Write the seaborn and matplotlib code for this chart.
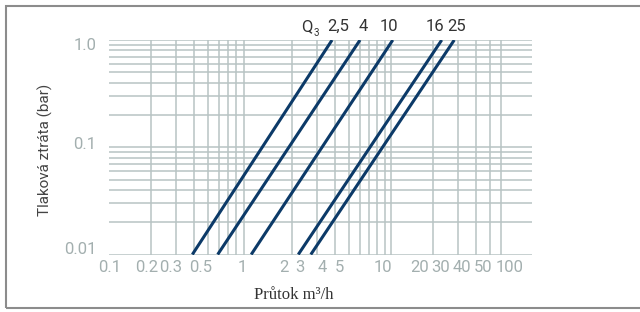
"""Pressure loss vs flow for water meters Q3 2,5 - 25."""

import numpy as np
import pandas as pd
import matplotlib
matplotlib.use("Agg")
import matplotlib.pyplot as plt
import seaborn as sns

sns.set_theme(style="white")
plt.rcParams['font.family'] = ['Roboto', 'DejaVu Sans']

# data: flow (m3/h) at 0.01 bar and at 1.0 bar
q3_labels = ['2,5', '4', '10', '16', '25']
flow_low = [0.39, 0.59, 1.02, 2.20, 2.70]
flow_high = [3.82, 6.03, 10.3, 22.9, 28.1]
dp_low = 0.01
dp_high = 1.0

x_tick_labels = ['0.1', '0.2', '0.3', '0.5', '1', '2', '3', '4', '5',
                 '10', '20', '30', '40', '50', '100']
y_tick_labels = ['0.01', '0.1', '1.0']

# where the labels sit in the picture (not quite on the gridlines)
x_tick_pos = [0.1016, 0.186, 0.275, 0.449, 0.877, 1.742, 2.26, 3.24, 4.28,
              8.77, 16.06, 22.6, 31.9, 44.9, 69.8]
y_tick_pos = [0.0115, 0.1106, 0.917]
label_xfrac = [0.541, 0.600, 0.662, 0.771, 0.822]

rows = []
for lab, lo, hi in zip(q3_labels, flow_low, flow_high):
    rows.append({'Q3': lab, 'flow': lo, 'dp': dp_low})
    rows.append({'Q3': lab, 'flow': hi, 'dp': dp_high})
df = pd.DataFrame(rows)

navy = '#0c3a68'
grid_c = '#b8c3c3'
tick_c = '#a3afaf'

fig = plt.figure(figsize=(6.4, 3.12), dpi=100)
ax = fig.add_axes([109 / 640, 1 - 254.5 / 312, 423 / 640, 214.5 / 312])
ax.set_xscale('log')
ax.set_yscale('log')

sns.lineplot(data=df, x='flow', y='dp', hue='Q3',
             palette=[navy] * len(q3_labels), linewidth=2.2,
             legend=False, ax=ax, solid_capstyle='butt')

ax.set_xlim(0.1, 100)
ax.set_ylim(0.01, 1.0)

# gridlines on minor ticks
x_grid = [m * 10.0 ** e for e in (-1, 0) for m in range(2, 10)] + [10, 20, 30, 40, 50, 60]
y_grid = [m * 10.0 ** e for e in (-2, -1) for m in range(1, 10)] + [1.0]
ax.xaxis.set_minor_locator(matplotlib.ticker.FixedLocator(x_grid))
ax.yaxis.set_minor_locator(matplotlib.ticker.FixedLocator(y_grid))
ax.xaxis.set_minor_formatter(matplotlib.ticker.NullFormatter())
ax.yaxis.set_minor_formatter(matplotlib.ticker.NullFormatter())
ax.grid(False, which='major')
ax.grid(True, which='minor', color=grid_c, linewidth=1.1)
ax.set_axisbelow(True)

ax.set_xticks(x_tick_pos)
ax.set_xticklabels(x_tick_labels)
ax.set_yticks(y_tick_pos)
ax.set_yticklabels(y_tick_labels)
ax.tick_params(which='both', length=0)
ax.tick_params(axis='x', pad=4, labelsize=12, labelcolor=tick_c)
ax.tick_params(axis='y', pad=9, labelsize=12, labelcolor=tick_c)

for s in ax.spines.values():
    s.set_visible(False)
ax.set_xlabel('')
ax.set_ylabel('')

# Q3 labels on top of the lines
trans = ax.transAxes
for lab, xf in zip(q3_labels, label_xfrac):
    ax.text(xf, 1.062, lab, transform=trans, ha='center', va='center',
            fontsize=12, color='#333333')
ax.text(0.468, 1.062, 'Q', transform=trans, ha='center', va='center',
        fontsize=12, color='#333333')
ax.text(0.490, 1.033, '3', transform=trans, ha='center', va='center',
        fontsize=7, color='#333333')

fig.text(45 / 640, 1 - 150 / 312, 'Tlaková ztráta (bar)', rotation=90,
         ha='center', va='center', fontsize=11, color='#444444')
fig.text(293.5 / 640, 1 - 295 / 312, 'Průtok m³/h', ha='center', va='center',
         fontsize=12, color='#333333', family=['Liberation Serif', 'DejaVu Serif'])

# grey frame round the figure
frame = plt.Rectangle((6 / 640, 4 / 312), 1.0, 302 / 312, transform=fig.transFigure,
                      fill=False, edgecolor='#8c8c8c', linewidth=1.5)
fig.patches.append(frame)

fig.savefig('out.png', dpi=100)
